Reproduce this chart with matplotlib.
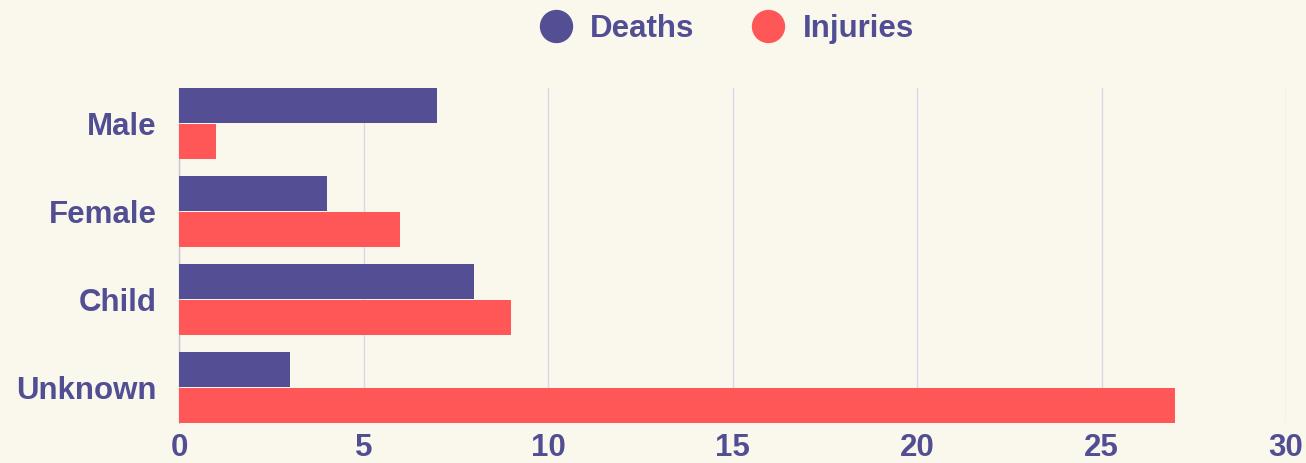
import matplotlib
matplotlib.use("Agg")
import matplotlib.pyplot as plt
from matplotlib.lines import Line2D
import numpy as np

categories = ["Male", "Female", "Child", "Unknown"]
deaths = [7, 4, 8, 3]
injuries = [1, 6, 9, 27]
xticks = [0, 5, 10, 15, 20, 25, 30]

BG = "#faf8ed"
DARK = "#544e94"
RED = "#ff5757"
TXT = "#524e94"
GRID = "#d9d6e6"

plt.rcParams['font.family'] = ['Liberation Sans', 'DejaVu Sans']

fig = plt.figure(figsize=(13.06, 4.63), dpi=100, facecolor=BG)
ax = fig.add_axes([179/1306, (463-423)/463, (1286-179)/1306, (423-88)/463])
ax.set_facecolor(BG)

y = np.arange(len(categories))
h = 0.395
ax.barh(y - h/2 - 0.005, deaths, height=h, color=DARK, zorder=3)
ax.barh(y + h/2 + 0.005, injuries, height=h, color=RED, zorder=3)

ax.set_xlim(0, 30)
ax.set_ylim(3.4, -0.4)
ax.set_xticks(xticks)
ax.set_xticklabels([str(v) for v in xticks])
ax.set_yticks(y)
ax.set_yticklabels(categories)
ax.tick_params(axis='both', length=0, labelsize=22.5, labelcolor=TXT)
ax.tick_params(axis='x', pad=7)
ax.tick_params(axis='y', pad=16)
for lab in ax.get_xticklabels() + ax.get_yticklabels():
    lab.set_fontweight('bold')
ax.xaxis.grid(True, color=GRID, linewidth=1, zorder=0)
for s in ['top', 'right', 'bottom']:
    ax.spines[s].set_visible(False)
ax.spines['left'].set_color('#c9c6d6')
ax.spines['left'].set_linewidth(1)

handles = [Line2D([], [], marker='o', linestyle='', markersize=23, color=DARK),
           Line2D([], [], marker='o', linestyle='', markersize=23, color=RED)]
leg = fig.legend(handles, ["Deaths", "Injuries"], loc='center', bbox_to_anchor=(723/1306, 1 - 29/463),
                 ncol=2, frameon=False, handletextpad=0.35, columnspacing=1.6,
                 handlelength=1.5, prop={'weight': 'bold', 'size': 22.5})
for t in leg.get_texts():
    t.set_color(TXT)

fig.savefig("out.png", dpi=100, facecolor=BG)
